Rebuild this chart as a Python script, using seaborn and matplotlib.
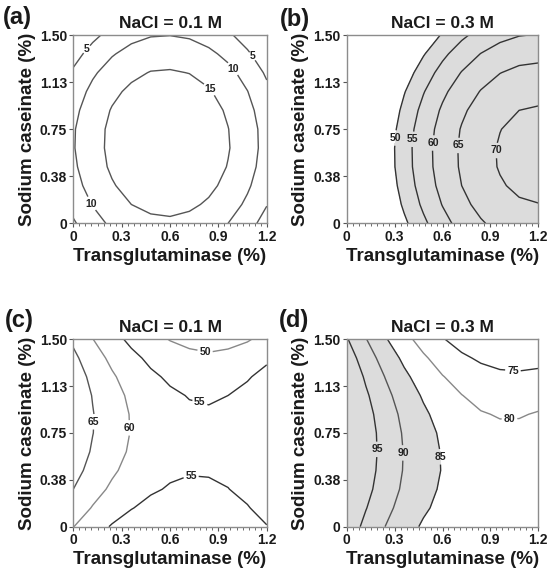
import matplotlib
matplotlib.use("Agg")
import matplotlib.pyplot as plt
import seaborn as sns
from matplotlib.ticker import AutoMinorLocator

tg = [0, 0.12, 0.24, 0.36, 0.48, 0.6, 0.72, 0.84, 0.96, 1.08, 1.2]
sc = [0, 0.15, 0.3, 0.45, 0.6, 0.75, 0.9, 1.05, 1.2, 1.35, 1.5]

# rows = sodium caseinate (bottom to top), columns = transglutaminase
surf_a = [
    [4.4, 8.1, 10.9, 12.8, 13.9, 14.2, 13.6, 12.2, 10.0, 6.9, 3.0],
    [6.6, 10.2, 13.0, 15.0, 16.1, 16.4, 15.8, 14.4, 12.2, 9.1, 5.2],
    [8.2, 11.9, 14.6, 16.6, 17.7, 18.0, 17.4, 16.0, 13.8, 10.7, 6.8],
    [9.2, 12.9, 15.7, 17.6, 18.7, 19.0, 18.5, 17.1, 14.8, 11.8, 7.8],
    [9.7, 13.3, 16.1, 18.1, 19.2, 19.5, 18.9, 17.5, 15.3, 12.2, 8.3],
    [9.6, 13.2, 16.0, 17.9, 19.1, 19.3, 18.8, 17.4, 15.1, 12.1, 8.2],
    [8.8, 12.5, 15.3, 17.2, 18.3, 18.6, 18.1, 16.7, 14.4, 11.4, 7.4],
    [7.5, 11.2, 14.0, 15.9, 17.0, 17.3, 16.8, 15.4, 13.1, 10.1, 6.1],
    [5.7, 9.3, 12.1, 14.0, 15.2, 15.4, 14.9, 13.5, 11.3, 8.2, 4.3],
    [3.2, 6.8, 9.6, 11.6, 12.7, 13.0, 12.4, 11.0, 8.8, 5.7, 1.8],
    [0.2, 3.8, 6.6, 8.6, 9.7, 9.9, 9.4, 8.0, 5.8, 2.7, -1.2],
]
surf_b = [
    [29.2, 36.5, 43.2, 49.0, 54.0, 58.3, 61.8, 64.5, 66.5, 67.6, 68.0],
    [31.0, 38.4, 45.0, 50.9, 55.9, 60.2, 63.7, 66.4, 68.3, 69.5, 69.9],
    [32.3, 39.7, 46.3, 52.1, 57.2, 61.5, 65.0, 67.7, 69.6, 70.8, 71.2],
    [33.0, 40.4, 47.0, 52.8, 57.9, 62.1, 65.6, 68.4, 70.3, 71.5, 71.9],
    [33.1, 40.5, 47.1, 52.9, 58.0, 62.2, 65.7, 68.5, 70.4, 71.6, 72.0],
    [32.6, 40.0, 46.6, 52.4, 57.5, 61.8, 65.3, 68.0, 69.9, 71.1, 71.5],
    [31.5, 38.9, 45.5, 51.3, 56.4, 60.7, 64.2, 66.9, 68.8, 70.0, 70.4],
    [29.8, 37.2, 43.8, 49.7, 54.7, 59.0, 62.5, 65.2, 67.2, 68.3, 68.7],
    [27.6, 35.0, 41.6, 47.4, 52.5, 56.7, 60.2, 63.0, 64.9, 66.1, 66.5],
    [24.7, 32.1, 38.7, 44.6, 49.6, 53.9, 57.4, 60.1, 62.1, 63.2, 63.6],
    [21.3, 28.7, 35.3, 41.1, 46.2, 50.5, 54.0, 56.7, 58.6, 59.8, 60.2],
]
surf_c = [
    [60.1, 57.1, 54.6, 52.7, 51.4, 50.6, 50.4, 50.6, 51.3, 52.7, 54.8],
    [62.8, 59.7, 57.2, 55.2, 53.7, 52.8, 52.5, 52.7, 53.4, 54.7, 56.8],
    [65.0, 61.8, 59.2, 57.1, 55.6, 54.6, 54.2, 54.3, 54.9, 56.3, 58.3],
    [66.7, 63.4, 60.7, 58.5, 56.9, 55.8, 55.3, 55.4, 56.0, 57.3, 59.3],
    [67.9, 64.5, 61.7, 59.4, 57.7, 56.6, 56.0, 55.9, 56.5, 57.8, 59.7],
    [68.6, 65.1, 62.2, 59.8, 58.0, 56.8, 56.1, 56.0, 56.6, 57.8, 59.7],
    [68.8, 65.2, 62.2, 59.7, 57.8, 56.5, 55.7, 55.5, 56.1, 57.3, 59.2],
    [68.4, 64.8, 61.7, 59.1, 57.1, 55.7, 54.8, 54.5, 55.0, 56.2, 58.0],
    [67.6, 63.8, 60.6, 57.9, 55.8, 54.3, 53.3, 53.0, 53.4, 54.6, 56.4],
    [66.1, 62.2, 58.9, 56.2, 54.0, 52.3, 51.3, 50.8, 51.3, 52.4, 54.2],
    [64.1, 60.1, 56.7, 53.9, 51.6, 49.8, 48.7, 48.2, 48.6, 49.6, 51.4],
]
surf_d = [
    [98.1, 93.7, 90.0, 86.9, 84.4, 82.5, 81.2, 80.5, 80.5, 81.0, 82.2],
    [99.7, 95.2, 91.4, 88.2, 85.7, 83.7, 82.3, 81.5, 81.4, 81.8, 82.9],
    [100.9, 96.4, 92.5, 89.2, 86.5, 84.4, 83.0, 82.1, 81.9, 82.3, 83.2],
    [101.7, 97.1, 93.1, 89.7, 86.9, 84.8, 83.2, 82.3, 82.0, 82.3, 83.2],
    [102.0, 97.4, 93.3, 89.8, 87.0, 84.7, 83.1, 82.1, 81.7, 81.8, 82.6],
    [102.0, 97.3, 93.1, 89.5, 86.6, 84.3, 82.5, 81.4, 80.9, 81.0, 81.7],
    [101.6, 96.7, 92.5, 88.8, 85.8, 83.3, 81.5, 80.3, 79.7, 79.7, 80.3],
    [100.7, 95.7, 91.4, 87.6, 84.5, 82.0, 80.1, 78.7, 78.0, 77.9, 78.4],
    [99.4, 94.3, 89.9, 86.0, 82.8, 80.2, 78.2, 76.8, 76.0, 75.8, 76.2],
    [97.6, 92.5, 87.9, 84.0, 80.7, 77.9, 75.8, 74.3, 73.4, 73.2, 73.5],
    [95.4, 90.2, 85.5, 81.5, 78.1, 75.3, 73.1, 71.5, 70.5, 70.1, 70.3],
]

levels_a = [5, 10, 15]
levels_b = [50, 55, 60, 65, 70]
levels_c = [50, 55, 60, 65]
levels_d = [75, 80, 85, 90, 95]

sns.set_theme(style="white")
plt.rcParams["font.family"] = ["Liberation Sans", "DejaVu Sans"]
plt.rcParams["font.weight"] = "bold"

fig = plt.figure(figsize=(5.48, 5.77), dpi=100)

panels = [
    ("(a)", "NaCl = 0.1 M", surf_a, levels_a, None, ["#555555"] * 3,
     [(0.08, 1.39), (1.11, 1.33), (0.98, 1.22), (0.82, 1.04), (0.10, 0.15)],
     [0.1338, 0.613, 0.353, 0.3263], (3, 6)),
    ("(b)", "NaCl = 0.3 M", surf_b, levels_b, 50, ["#333333"] * 5,
     [(0.30, 0.68), (0.41, 0.67), (0.54, 0.64), (0.70, 0.62), (0.93, 0.58)],
     [0.6327, 0.613, 0.3496, 0.3263], (280, 8)),
    ("(c)", "NaCl = 0.1 M", surf_c, levels_c, None,
     ["#888888", "#333333", "#888888", "#555555"],
     [(0.12, 0.84), (0.33, 0.79), (0.78, 0.97), (0.73, 0.41), (0.82, 1.42)],
     [0.1338, 0.0872, 0.353, 0.3248], (5, 309)),
    ("(d)", "NaCl = 0.3 M", surf_d, levels_d, 85,
     ["#333333", "#888888", "#333333", "#555555", "#333333"],
     [(0.21, 0.62), (0.37, 0.59), (0.59, 0.56), (1.02, 0.83), (1.04, 1.23)],
     [0.6327, 0.0872, 0.3496, 0.3248], (279, 309)),
]

for tag, title, Z, levels, fill_from, line_colors, label_pos, pos, tag_xy in panels:
    ax = fig.add_axes(pos)
    if fill_from is not None:
        ax.contourf(tg, sc, Z, levels=[fill_from, 200], colors=["#dcdcdc"])
    cs = ax.contour(tg, sc, Z, levels=levels, colors=line_colors, linewidths=1.0)
    texts = ax.clabel(cs, fmt="%d", fontsize=7.5, inline=True, inline_spacing=2,
                      manual=label_pos, colors="#222222")
    for t in texts:
        t.set_rotation(0)
        t.set_fontweight("bold")
    ax.set_xlim(0, 1.2)
    ax.set_ylim(0, 1.5)
    ax.set_xticks([0, 0.3, 0.6, 0.9, 1.2])
    ax.set_xticklabels(["0", "0.3", "0.6", "0.9", "1.2"])
    ax.set_yticks([0, 0.375, 0.75, 1.125, 1.5])
    ax.set_yticklabels(["0", "0.38", "0.75", "1.13", "1.50"])
    ax.xaxis.set_minor_locator(AutoMinorLocator(8))
    ax.tick_params(which="major", direction="out", length=3, width=0.8, color="#555555",
                   labelsize=10, pad=1.5, left=True, bottom=True, labelcolor="#1a1a1a")
    ax.tick_params(axis="x", which="minor", direction="out", length=1.8, width=0.6,
                   color="#555555", bottom=True)
    for sp in ax.spines.values():
        sp.set_color("#8c8c8c")
        sp.set_linewidth(1.0)
    ax.set_xlabel("Transglutaminase (%)", fontsize=13.5, fontweight="bold", labelpad=3,
                  color="#1a1a1a")
    ax.set_ylabel("Sodium caseinate (%)", fontsize=13.5, fontweight="bold", labelpad=3,
                  color="#1a1a1a")
    ax.set_title(title, fontsize=12.5, fontweight="bold", pad=5, color="#1a1a1a")
    fig.text(tag_xy[0] / 548, 1 - tag_xy[1] / 577, tag, fontsize=17, fontweight="bold",
             ha="left", va="top", color="#1a1a1a")

fig.savefig("out.png", dpi=100)
